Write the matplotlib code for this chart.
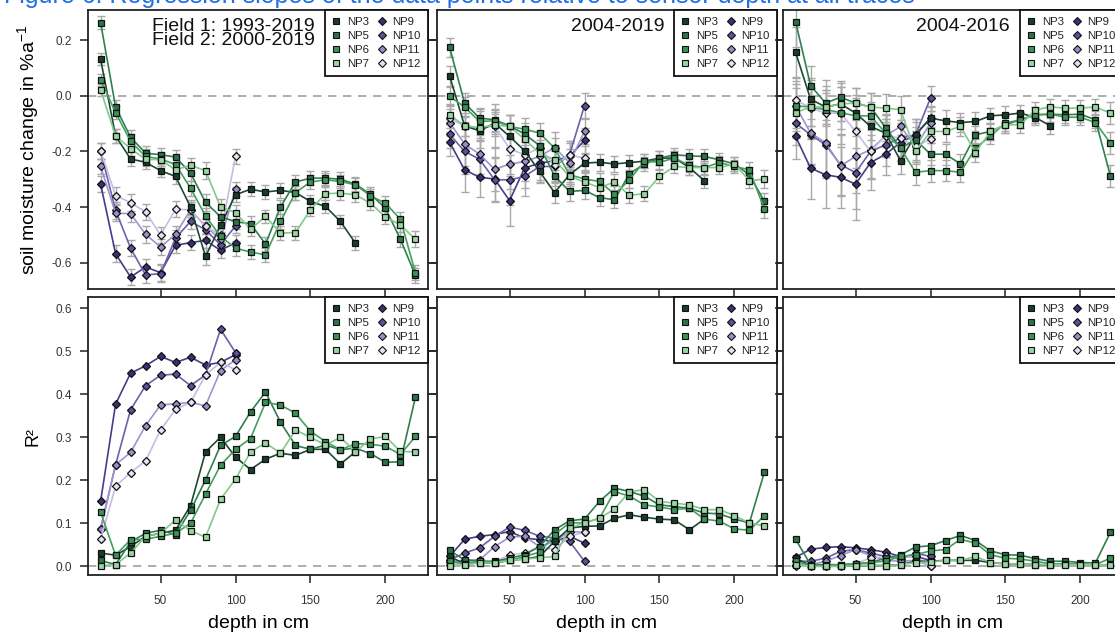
import matplotlib
matplotlib.use("Agg")
import matplotlib.pyplot as plt
from matplotlib.lines import Line2D

plt.rcParams['font.family'] = ['Liberation Sans', 'DejaVu Sans']
plt.rcParams['mathtext.fontset'] = 'custom'
plt.rcParams['mathtext.rm'] = 'Liberation Sans'
plt.rcParams['axes.unicode_minus'] = False

# Tiefen in cm
depth_green = [10, 20, 30, 40, 50, 60, 70, 80, 90, 100, 110, 120, 130, 140, 150, 160, 170, 180, 190, 200, 210, 220]
depth_purple = [10, 20, 30, 40, 50, 60, 70, 80, 90, 100]

green_names = ["NP3", "NP5", "NP6", "NP7"]
purple_names = ["NP9", "NP10", "NP11", "NP12"]
periods = ["Field 1: 1993-2019\nField 2: 2000-2019", "2004-2019", "2004-2016"]

# Trend (soil moisture change in %/a), Spalte 1
trend_p1 = {
    "NP3": [0.132, -0.144, -0.227, -0.239, -0.269, -0.29, -0.40, -0.578, -0.466, -0.356, -0.336, -0.346, -0.34, -0.348, -0.38, -0.398, -0.452, -0.53],
    "NP5": [0.264, -0.04, -0.149, -0.206, -0.212, -0.22, -0.278, -0.383, -0.435, -0.453, -0.46, -0.533, -0.40, -0.31, -0.296, -0.296, -0.30, -0.318, -0.354, -0.404, -0.516, -0.646],
    "NP6": [0.058, -0.06, -0.164, -0.218, -0.227, -0.247, -0.332, -0.432, -0.506, -0.548, -0.562, -0.572, -0.452, -0.348, -0.31, -0.302, -0.308, -0.32, -0.36, -0.386, -0.444, -0.636],
    "NP7": [0.022, -0.144, -0.19, -0.228, -0.23, -0.266, -0.25, -0.269, -0.40, -0.42, -0.48, -0.434, -0.494, -0.492, -0.41, -0.352, -0.35, -0.356, -0.386, -0.436, -0.464, -0.516],
    "NP9": [-0.317, -0.568, -0.652, -0.616, -0.636, -0.538, -0.528, -0.52, -0.556, -0.528],
    "NP10": [-0.198, -0.412, -0.548, -0.644, -0.64, -0.512, -0.452, -0.482, -0.536, -0.468],
    "NP11": [-0.254, -0.422, -0.424, -0.498, -0.544, -0.498, -0.41, -0.47, -0.516, -0.336],
    "NP12": [-0.198, -0.359, -0.384, -0.418, -0.501, -0.408, -0.41, -0.47, -0.50, -0.218],
}
trend_p2 = {
    "NP3": [0.072, -0.108, -0.126, -0.098, -0.146, -0.197, -0.272, -0.348, -0.284, -0.242, -0.239, -0.245, -0.24, -0.235, -0.224, -0.224, -0.258, -0.306],
    "NP5": [0.175, -0.026, -0.08, -0.086, -0.108, -0.137, -0.179, -0.288, -0.344, -0.34, -0.366, -0.374, -0.28, -0.245, -0.224, -0.212, -0.216, -0.218, -0.23, -0.245, -0.284, -0.38],
    "NP6": [-0.002, -0.04, -0.092, -0.09, -0.11, -0.12, -0.134, -0.188, -0.284, -0.299, -0.308, -0.354, -0.302, -0.235, -0.239, -0.224, -0.25, -0.258, -0.24, -0.254, -0.266, -0.408],
    "NP7": [-0.068, -0.108, -0.114, -0.105, -0.11, -0.156, -0.206, -0.23, -0.29, -0.31, -0.33, -0.31, -0.358, -0.352, -0.29, -0.254, -0.258, -0.258, -0.258, -0.245, -0.305, -0.30],
    "NP9": [-0.167, -0.266, -0.293, -0.299, -0.377, -0.26, -0.242, -0.234, -0.218, -0.16],
    "NP10": [-0.138, -0.2, -0.228, -0.302, -0.302, -0.29, -0.254, -0.254, -0.212, -0.035],
    "NP11": [-0.096, -0.173, -0.21, -0.264, -0.246, -0.236, -0.218, -0.186, -0.24, -0.128],
    "NP12": [-0.08, -0.11, -0.116, -0.108, -0.19, -0.212, -0.188, -0.25, -0.212, -0.224],
}
trend_p3 = {
    "NP3": [0.157, -0.012, -0.04, -0.029, -0.062, -0.11, -0.134, -0.233, -0.14, -0.08, -0.09, -0.096, -0.092, -0.072, -0.068, -0.062, -0.078, -0.108],
    "NP5": [0.267, 0.037, -0.026, -0.005, -0.026, -0.04, -0.114, -0.188, -0.158, -0.21, -0.21, -0.245, -0.14, -0.128, -0.104, -0.086, -0.068, -0.066, -0.068, -0.066, -0.086, -0.288],
    "NP6": [-0.036, -0.04, -0.05, -0.06, -0.072, -0.072, -0.134, -0.188, -0.275, -0.269, -0.269, -0.275, -0.188, -0.144, -0.098, -0.086, -0.068, -0.066, -0.077, -0.077, -0.096, -0.17],
    "NP7": [-0.06, -0.04, -0.04, -0.029, -0.026, -0.04, -0.044, -0.05, -0.2, -0.128, -0.128, -0.11, -0.204, -0.128, -0.104, -0.104, -0.05, -0.04, -0.044, -0.044, -0.04, -0.062],
    "NP9": [-0.146, -0.26, -0.284, -0.293, -0.318, -0.24, -0.21, -0.168, -0.14, -0.08],
    "NP10": [-0.098, -0.14, -0.176, -0.248, -0.276, -0.2, -0.176, -0.152, -0.14, -0.008],
    "NP11": [-0.036, -0.134, -0.168, -0.252, -0.218, -0.194, -0.144, -0.11, -0.182, -0.098],
    "NP12": [-0.014, -0.044, -0.062, -0.062, -0.128, -0.2, -0.144, -0.152, -0.182, -0.156],
}

# Standardfehler der Trends
err_green_p1 = [0.022, 0.024, 0.025, 0.025, 0.024, 0.026, 0.027, 0.03, 0.028, 0.027, 0.026, 0.025, 0.026, 0.025, 0.024, 0.024, 0.025, 0.026, 0.025, 0.026, 0.027, 0.028]
err_purple_p1 = [0.028, 0.03, 0.03, 0.03, 0.03, 0.028, 0.027, 0.028, 0.027, 0.026]
err_green_p2 = [0.035, 0.035, 0.038, 0.04, 0.04, 0.04, 0.038, 0.036, 0.034, 0.032, 0.03, 0.028, 0.028, 0.026, 0.025, 0.025, 0.025, 0.025, 0.024, 0.025, 0.028, 0.032]
err_purple_p2 = [0.05, 0.08, 0.07, 0.08, 0.09, 0.07, 0.06, 0.055, 0.05, 0.045]
err_green_p3 = [0.09, 0.07, 0.06, 0.06, 0.055, 0.05, 0.05, 0.048, 0.045, 0.04, 0.038, 0.035, 0.033, 0.03, 0.03, 0.028, 0.028, 0.028, 0.028, 0.028, 0.03, 0.04]
err_purple_p3 = [0.08, 0.11, 0.12, 0.11, 0.13, 0.1, 0.075, 0.065, 0.055, 0.045]

# R^2 der Trends
r2_p1 = {
    "NP3": [0.031, 0.026, 0.046, 0.07, 0.077, 0.084, 0.141, 0.266, 0.30, 0.254, 0.225, 0.249, 0.263, 0.258, 0.272, 0.272, 0.238, 0.266],
    "NP5": [0.014, 0.004, 0.057, 0.077, 0.084, 0.074, 0.13, 0.201, 0.281, 0.302, 0.359, 0.405, 0.335, 0.281, 0.272, 0.282, 0.271, 0.275, 0.262, 0.242, 0.243, 0.393],
    "NP6": [0.126, 0.026, 0.062, 0.063, 0.07, 0.077, 0.1, 0.168, 0.235, 0.272, 0.297, 0.381, 0.375, 0.356, 0.314, 0.29, 0.271, 0.285, 0.284, 0.279, 0.26, 0.302],
    "NP7": [0.002, 0.004, 0.031, 0.07, 0.077, 0.108, 0.083, 0.068, 0.156, 0.203, 0.266, 0.287, 0.263, 0.317, 0.30, 0.282, 0.30, 0.266, 0.296, 0.302, 0.267, 0.266],
    "NP9": [0.151, 0.377, 0.449, 0.466, 0.488, 0.474, 0.486, 0.468, 0.474, 0.492],
    "NP10": [0.087, 0.236, 0.364, 0.42, 0.444, 0.447, 0.42, 0.445, 0.551, 0.497],
    "NP11": [0.087, 0.236, 0.265, 0.327, 0.375, 0.378, 0.381, 0.373, 0.455, 0.48],
    "NP12": [0.063, 0.186, 0.218, 0.245, 0.317, 0.365, 0.381, 0.445, 0.474, 0.457],
}
r2_p2 = {
    "NP3": [0.023, 0.006, 0.008, 0.008, 0.014, 0.017, 0.023, 0.058, 0.089, 0.093, 0.094, 0.112, 0.12, 0.114, 0.11, 0.108, 0.085, 0.11],
    "NP5": [0.037, 0.015, 0.012, 0.012, 0.019, 0.027, 0.046, 0.085, 0.106, 0.11, 0.151, 0.182, 0.174, 0.163, 0.143, 0.139, 0.135, 0.124, 0.122, 0.11, 0.101, 0.219],
    "NP6": [0.012, 0.006, 0.012, 0.01, 0.014, 0.023, 0.033, 0.074, 0.101, 0.101, 0.112, 0.174, 0.163, 0.143, 0.138, 0.132, 0.135, 0.11, 0.105, 0.087, 0.084, 0.118],
    "NP7": [0.002, 0.004, 0.008, 0.008, 0.014, 0.017, 0.02, 0.023, 0.089, 0.101, 0.112, 0.133, 0.174, 0.178, 0.151, 0.147, 0.143, 0.132, 0.132, 0.118, 0.101, 0.094],
    "NP9": [0.023, 0.063, 0.07, 0.074, 0.081, 0.066, 0.062, 0.058, 0.07, 0.054],
    "NP10": [0.015, 0.031, 0.043, 0.07, 0.091, 0.084, 0.07, 0.066, 0.058, 0.012],
    "NP11": [0.01, 0.015, 0.015, 0.046, 0.068, 0.07, 0.046, 0.058, 0.081, 0.079],
    "NP12": [0.004, 0.01, 0.01, 0.01, 0.027, 0.031, 0.046, 0.039, 0.07, 0.079],
}
r2_p3 = {
    "NP3": [0.019, 0.002, 0.002, 0.0, 0.002, 0.002, 0.002, 0.004, 0.012, 0.012, 0.014, 0.014, 0.014, 0.009, 0.006, 0.006, 0.004, 0.004],
    "NP5": [0.063, 0.004, 0.004, 0.004, 0.006, 0.009, 0.019, 0.027, 0.045, 0.048, 0.06, 0.072, 0.06, 0.036, 0.027, 0.026, 0.018, 0.012, 0.012, 0.009, 0.008, 0.079],
    "NP6": [0.012, 0.002, 0.002, 0.004, 0.006, 0.009, 0.012, 0.023, 0.027, 0.036, 0.039, 0.063, 0.054, 0.027, 0.019, 0.017, 0.012, 0.006, 0.006, 0.006, 0.004, 0.019],
    "NP7": [0.004, 0.0, 0.0, 0.0, 0.002, 0.002, 0.002, 0.004, 0.009, 0.01, 0.014, 0.014, 0.023, 0.009, 0.006, 0.006, 0.004, 0.004, 0.004, 0.004, 0.004, 0.004],
    "NP9": [0.021, 0.04, 0.044, 0.046, 0.043, 0.039, 0.033, 0.023, 0.023, 0.014],
    "NP10": [0.012, 0.012, 0.019, 0.035, 0.039, 0.031, 0.023, 0.017, 0.031, 0.023],
    "NP11": [0.004, 0.004, 0.012, 0.025, 0.039, 0.025, 0.014, 0.012, 0.014, 0.001],
    "NP12": [0.0, 0.002, 0.002, 0.002, 0.006, 0.02, 0.023, 0.023, 0.023, 0.0],
}

# Farben (Marker / Linie)
marker_col = {"NP3": "#173f29", "NP5": "#2b7447", "NP6": "#3a9455", "NP7": "#9ad6a2",
              "NP9": "#3a3175", "NP10": "#5a509c", "NP11": "#9890ca", "NP12": "#e6e2f5"}
line_col = {"NP3": "#1d4a32", "NP5": "#2f8050", "NP6": "#45a060", "NP7": "#82c98c",
            "NP9": "#463c8a", "NP10": "#6b62ac", "NP11": "#9c95cf", "NP12": "#c4bee3"}

W, H = 1115, 633
col_x = [88, 437, 783]
rows_y = [(10, 289), (297, 575)]

fig = plt.figure(figsize=(W / 100, H / 100), dpi=100)

# Bildunterschrift oben, im Original abgeschnitten
fig.text(0.004, 1 - 2.5 / H, "Figure 6: Regression slopes of the data points relative to sensor depth at all traces",
         color="#1f6fe6", fontsize=18, va="baseline", ha="left")

trend_sets = [trend_p1, trend_p2, trend_p3]
r2_sets = [r2_p1, r2_p2, r2_p3]
err_sets = [(err_green_p1, err_purple_p1), (err_green_p2, err_purple_p2), (err_green_p3, err_purple_p3)]


def draw_legend(ax):
    handles = []
    for n in green_names:
        handles.append(Line2D([], [], ls="none", marker="s", ms=4.2, mfc=marker_col[n], mec="#111111", mew=0.8, label=n))
    for n in purple_names:
        handles.append(Line2D([], [], ls="none", marker="D", ms=3.8, mfc=marker_col[n], mec="#111111", mew=0.8, label=n))
    leg = ax.legend(handles=handles, ncol=2, loc="upper right", bbox_to_anchor=(1, 1), borderaxespad=0,
                    fontsize=8.2, frameon=True, fancybox=False, framealpha=1, edgecolor="#111111",
                    handlelength=0.8, handletextpad=0.5, columnspacing=0.8, labelspacing=0.36, borderpad=0.62)
    leg.get_frame().set_linewidth(1.3)
    for t in leg.get_texts():
        t.set_color("#222222")


def style_axes(ax, row, col):
    for s in ax.spines.values():
        s.set_linewidth(1.3)
        s.set_color("#222222")
    ax.set_xlim(1.6, 228.4)
    ax.tick_params(axis="both", direction="out", length=5.5, width=1.1, colors="#222222",
                   labelsize=8.5, labelcolor="#333333")
    ax.tick_params(axis="y", left=True, right=True, labelleft=(col == 0), labelright=False, pad=6)
    ax.set_xticks([50, 100, 150, 200])
    if row == 0:
        ax.set_ylim(-0.695, 0.309)
        ax.set_yticks([-0.6, -0.4, -0.2, 0.0, 0.2])
        ax.set_yticklabels(["-0.6", "-0.4", "-0.2", "0.0", "0.2"])
        ax.tick_params(axis="x", bottom=False, top=False, labelbottom=False)
    else:
        ax.set_ylim(-0.02, 0.626)
        ax.set_yticks([0.0, 0.1, 0.2, 0.3, 0.4, 0.5, 0.6])
        ax.tick_params(axis="x", bottom=True, top=True, labelbottom=True, labeltop=False, pad=9)
        ax.set_xlabel("depth in cm", fontsize=14, labelpad=6)
    ax.axhline(0, color="#a0a0a0", ls=(0, (5, 4)), lw=1.2, zorder=1)


for row in range(2):
    for col in range(3):
        y0, y1 = rows_y[row]
        ax = fig.add_axes([col_x[col] / W, 1 - y1 / H, 340 / W, (y1 - y0) / H])
        data = trend_sets[col] if row == 0 else r2_sets[col]

        if row == 0:
            eg, ep = err_sets[col]
            for n in purple_names + green_names:
                vals = data[n]
                dep = (depth_green if n in green_names else depth_purple)[:len(vals)]
                err = (eg if n in green_names else ep)[:len(vals)]
                ax.errorbar(dep, vals, yerr=err, fmt="none", ecolor="#a9a9a9", elinewidth=1.0,
                            capsize=2.6, capthick=1.0, zorder=2)

        for n in purple_names + green_names:
            vals = data[n]
            if n in green_names:
                dep = depth_green[:len(vals)]
                ax.plot(dep, vals, color=line_col[n], lw=1.2, marker="s", ms=4.8,
                        mfc=marker_col[n], mec="#111111", mew=0.9, zorder=3)
            else:
                dep = depth_purple[:len(vals)]
                ax.plot(dep, vals, color=line_col[n], lw=1.2, marker="D", ms=4.2,
                        mfc=marker_col[n], mec="#111111", mew=0.9, zorder=3)

        style_axes(ax, row, col)
        draw_legend(ax)

        if row == 0:
            ax.text(0.668, 0.972, periods[col], transform=ax.transAxes, ha="right", va="top",
                    fontsize=14, linespacing=0.78, color="#111111")

        if col == 0:
            if row == 0:
                ax.set_ylabel("soil moisture change in %a$^{-1}$", fontsize=14, labelpad=7)
            else:
                ax.set_ylabel("R²", fontsize=13, labelpad=10)

fig.savefig("out.png", dpi=100)
